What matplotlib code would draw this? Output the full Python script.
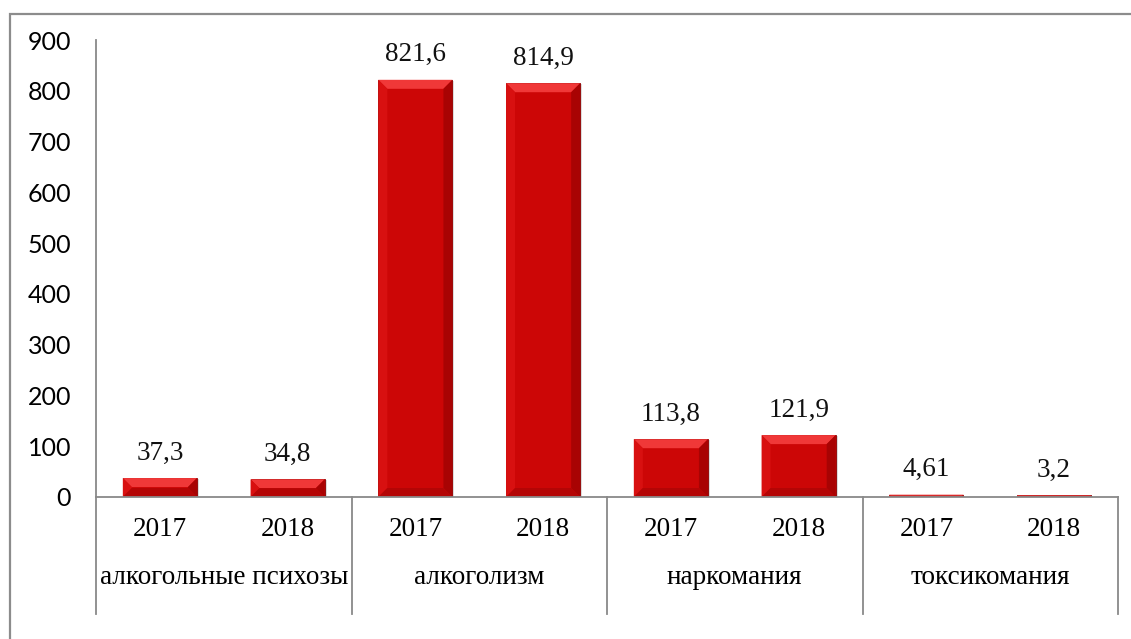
import matplotlib.pyplot as plt
import matplotlib.transforms as mtransforms
from matplotlib.patches import Polygon, Rectangle

# Data
categories = ["алкогольные психозы", "алкоголизм", "наркомания", "токсикомания"]
years = ["2017", "2018"]
values = [37.3, 34.8, 821.6, 814.9, 113.8, 121.9, 4.61, 3.2]

W, H = 1131, 639
fig = plt.figure(figsize=(W / 100, H / 100), dpi=100)
ax = fig.add_axes([96 / W, 142 / H, 1022 / W, 457 / H])

n = len(values)
xs = list(range(n))
bar_w = 0.58
ax.set_xlim(-0.5, n - 0.5)
ax.set_ylim(0, 900)

# pixels per data unit, for the bevel geometry
px_x = 1022 / n
px_y = 457 / 900

face = "#cc0606"
for xi, v in zip(xs, values):
    x0, x1 = xi - bar_w / 2, xi + bar_w / 2
    hpx = v * px_y
    k = min(9.0, hpx / 2)
    bx, by = k / px_x, k / px_y
    # soft shadow
    ax.add_patch(Rectangle((x0 + 2 / px_x, 0), bar_w, v - 1 / px_y,
                           facecolor="#999999", alpha=0.35, lw=0, zorder=1.5))
    ax.add_patch(Rectangle((x0, 0), bar_w, v, facecolor=face,
                           edgecolor="#8a0000", lw=0.6, zorder=2))
    bevels = [
        ([(x0, v), (x1, v), (x1 - bx, v - by), (x0 + bx, v - by)], "#f03838"),
        ([(x0, 0), (x0, v), (x0 + bx, v - by), (x0 + bx, by)], "#d81010"),
        ([(x1, 0), (x1, v), (x1 - bx, v - by), (x1 - bx, by)], "#a80303"),
        ([(x0, 0), (x1, 0), (x1 - bx, by), (x0 + bx, by)], "#b40505"),
    ]
    for pts, c in bevels:
        ax.add_patch(Polygon(pts, closed=True, facecolor=c, lw=0, zorder=2.1))
    ax.annotate(f"{v:g}".replace(".", ","), (xi, v), xytext=(0, 25),
                textcoords="offset pixels", ha="center", va="center",
                fontfamily="Liberation Serif", fontsize=19.5, color="#111111")

# axes styling
for s in ["top", "right"]:
    ax.spines[s].set_visible(False)
for s in ["left", "bottom"]:
    ax.spines[s].set_color("#898989")
    ax.spines[s].set_linewidth(1.3)
ax.set_xticks([])
ax.set_yticks(range(0, 1000, 100))
ax.tick_params(axis="y", length=0, pad=18, labelsize=18)
for lbl in ax.get_yticklabels():
    lbl.set_fontfamily("Lato")

# two-level category axis
trans = mtransforms.blended_transform_factory(ax.transData, ax.transAxes)
for xb in [-0.5, 1.5, 3.5, 5.5, 7.5]:
    ax.plot([xb, xb], [0, -(614 - 497) / 457], transform=trans,
            color="#898989", lw=1.3, clip_on=False)
for xi in xs:
    ax.text(xi, -(530 - 497) / 457, years[xi % 2], transform=trans,
            ha="center", va="center", fontfamily="Liberation Serif", fontsize=19.5)
for i, cat in enumerate(categories):
    ax.text(2 * i + 0.5, -(578 - 497) / 457, cat, transform=trans,
            ha="center", va="center", fontfamily="Liberation Serif", fontsize=19.5)

# chart border
fig.add_artist(Rectangle((10 / W, -0.1), 1.2, (H - 14) / H + 0.1,
                         transform=fig.transFigure, fill=False,
                         edgecolor="#8c8c8c", lw=1.6))

fig.savefig("out.png", dpi=100)
